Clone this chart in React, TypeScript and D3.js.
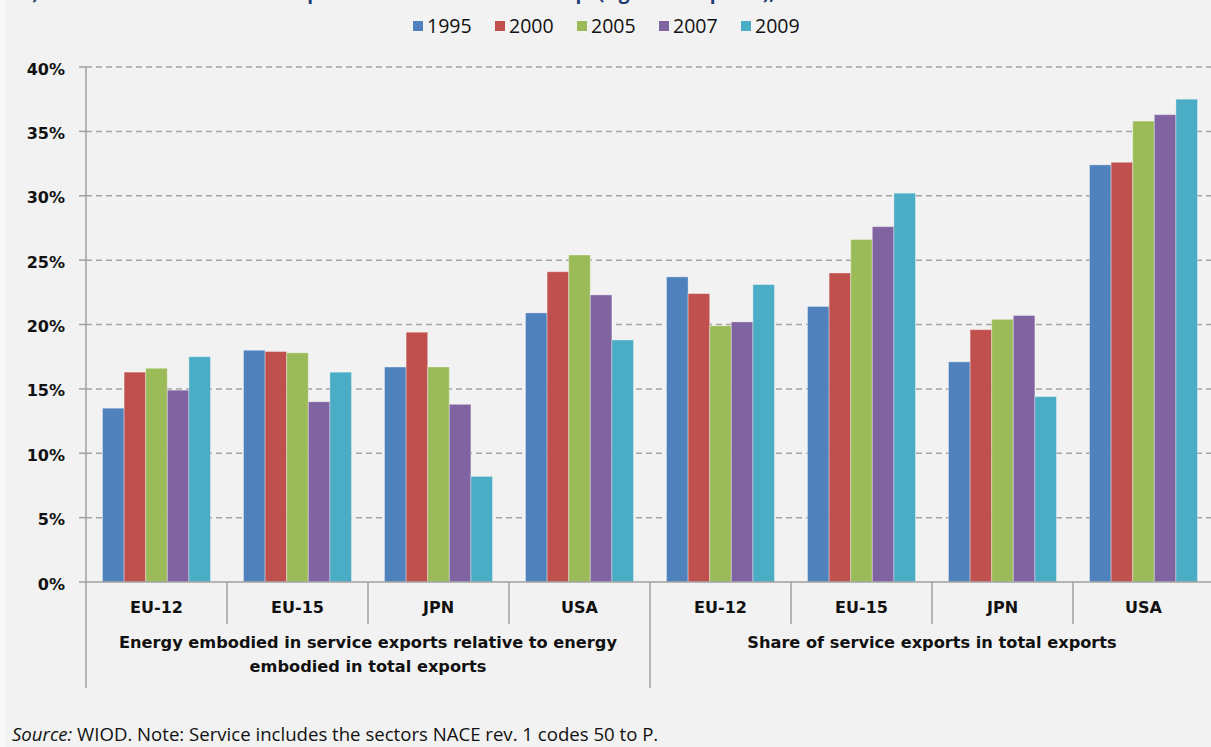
import React from "react";
import * as d3 from "d3";

const W = 1211;
const H = 747;

const countries = ["EU-12", "EU-15", "JPN", "USA"];
const panelLabels = [
  ["Energy embodied in service exports relative to energy", "embodied in total exports"],
  ["Share of service exports in total exports"],
];
const years = ["1995", "2000", "2005", "2007", "2009"];
const colors = ["#4f81bd", "#c0504d", "#9bbb59", "#8064a2", "#4bacc6"];

// values (%) per category: 4 countries for panel 1, then 4 for panel 2
const s1995 = [13.5, 18.0, 16.7, 20.9, 23.7, 21.4, 17.1, 32.4];
const s2000 = [16.3, 17.9, 19.4, 24.1, 22.4, 24.0, 19.6, 32.6];
const s2005 = [16.6, 17.8, 16.7, 25.4, 19.9, 26.6, 20.4, 35.8];
const s2007 = [14.9, 14.0, 13.8, 22.3, 20.2, 27.6, 20.7, 36.3];
const s2009 = [17.5, 16.3, 8.2, 18.8, 23.1, 30.2, 14.4, 37.5];
const series = [s1995, s2000, s2005, s2007, s2009];

const yTicks = [0, 5, 10, 15, 20, 25, 30, 35, 40];

const titleText =
  "b) Service share in the total exports and total embodied exp. (right-hand panel), 1995-2009";
const sourceNote = " WIOD. Note: Service includes the sectors NACE rev. 1 codes 50 to P.";

export default function App() {
  const left = 86;
  const right = 1214;
  const bottom = 582;
  const top = 67;

  const cats = d3.range(8).map((i) => `${i < 4 ? "A" : "B"}|${countries[i % 4]}`);
  const x = d3.scaleBand<string>().domain(cats).range([left, right]).paddingInner(0).paddingOuter(0);
  const xi = d3.scaleBand<string>().domain(years).range([0, x.bandwidth()]).paddingInner(0).paddingOuter(0.764);
  const y = d3.scaleLinear().domain([0, 40]).range([bottom, top]);

  const font = "'DejaVu Sans', Verdana, sans-serif";
  const step = x.step();

  return (
    <svg
      width={W}
      height={H}
      style={{ position: "absolute", left: 0, top: 0, display: "block" }}
      xmlns="http://www.w3.org/2000/svg"
    >
      <rect x={0} y={0} width={W} height={H} fill="#f2f2f2" />
      <rect x={0} y={0} width={6} height={H} fill="#f8f8f8" />

      {/* clipped title (only descenders visible, as in the reference) */}
      <text x={20} y={-1.5} fontFamily="'Open Sans', sans-serif" fontWeight="bold" fontSize={19} fill="#1f3f73">
        {titleText}
      </text>

      {/* legend */}
      {years.map((yr, i) => (
        <g key={yr} transform={`translate(${413 + i * 82},0)`}>
          <rect x={0} y={21} width={10} height={10} fill={colors[i]} />
          <text x={14} y={33} fontFamily="'Open Sans', sans-serif" fontSize={19.5} fill="#111">
            {yr}
          </text>
        </g>
      ))}

      {/* gridlines */}
      {yTicks.slice(1).map((t) => (
        <line
          key={t}
          x1={left}
          x2={W}
          y1={y(t)}
          y2={y(t)}
          stroke="#a3a3a3"
          strokeWidth={1.5}
          strokeDasharray="6,4"
        />
      ))}

      {/* bars */}
      {series.map((vals, si) =>
        vals.map((v, ci) => (
          <rect
            key={`${si}-${ci}`}
            x={(x(cats[ci]) as number) + (xi(years[si]) as number)}
            y={y(v)}
            width={xi.bandwidth()}
            height={bottom - y(v)}
            fill={colors[si]}
            stroke="rgba(255,255,255,0.35)"
            strokeWidth={1}
          />
        ))
      )}

      {/* y axis */}
      <line x1={left} x2={left} y1={top} y2={688} stroke="#a0a0a0" strokeWidth={1.5} />
      {yTicks.map((t) => (
        <g key={t}>
          <line x1={79} x2={left} y1={y(t)} y2={y(t)} stroke="#a0a0a0" strokeWidth={1.5} />
          <text
            x={65}
            y={y(t) + 7.5}
            textAnchor="end"
            fontFamily={font}
            fontWeight="bold"
            fontSize={16}
            fill="#111"
          >
            {`${t}%`}
          </text>
        </g>
      ))}

      {/* x axis */}
      <line x1={left} x2={W} y1={bottom} y2={bottom} stroke="#a0a0a0" strokeWidth={1.5} />
      {d3.range(1, 8).map((k) => (
        <line
          key={k}
          x1={left + k * step}
          x2={left + k * step}
          y1={bottom}
          y2={k === 4 ? 688 : 624}
          stroke="#a0a0a0"
          strokeWidth={1.5}
        />
      ))}

      {cats.map((c, i) => (
        <text
          key={c}
          x={(x(c) as number) + step / 2}
          y={613}
          textAnchor="middle"
          fontFamily={font}
          fontWeight="bold"
          fontSize={16}
          fill="#111"
        >
          {countries[i % 4]}
        </text>
      ))}

      {panelLabels.map((lines, p) =>
        lines.map((ln, li) => (
          <text
            key={`${p}-${li}`}
            x={left + (p * 4 + 2) * step}
            y={648 + li * 24}
            textAnchor="middle"
            fontFamily={font}
            fontWeight="bold"
            fontSize={16.2}
            fill="#111"
          >
            {ln}
          </text>
        ))
      )}

      {/* source */}
      <text x={12} y={741} fontFamily="'Open Sans', sans-serif" fontSize={18.6} fill="#111">
        <tspan fontStyle="italic">Source:</tspan>
        {sourceNote}
      </text>
    </svg>
  );
}
